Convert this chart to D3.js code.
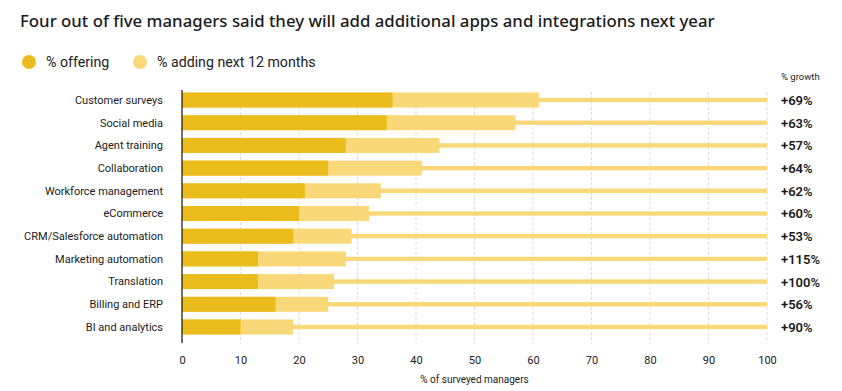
<!DOCTYPE html>
<html>
<head>
<meta charset="utf-8">
<script src="https://cdn.jsdelivr.net/npm/d3@7"></script>
<style>
  body { margin: 0; background: #fff; }
  svg { display: block; font-family: "Roboto", "Liberation Sans", sans-serif; }
</style>
</head>
<body>
<div id="chart"></div>
<script>
const categories = [
  "Customer surveys", "Social media", "Agent training", "Collaboration",
  "Workforce management", "eCommerce", "CRM/Salesforce automation",
  "Marketing automation", "Translation", "Billing and ERP", "BI and analytics"
]
// % offering today
const offering = [36, 35, 28, 25, 21, 20, 19, 13, 13, 16, 10]
// % offering + adding in next 12 months (end of the light bar)
const withAdding = [61, 57, 44, 41, 34, 32, 29, 28, 26, 25, 19]
const growth = ["+69%", "+63%", "+57%", "+64%", "+62%", "+60%", "+53%", "+115%", "+100%", "+56%", "+90%"]
const xTicks = [0, 10, 20, 30, 40, 50, 60, 70, 80, 90, 100]

const width = 842
const height = 391
const margin = {top: 91.4, right: 75, bottom: 55.4, left: 182}
const plotBottom = 343
const darkColor = "#ebbd1c"
const lightColor = "#f8d878"

const svg = d3.select("#chart").append("svg")
    .attr("width", width)
    .attr("height", height)

// title
svg.append("text")
    .attr("x", 20).attr("y", 27)
    .attr("font-family", "'Noto Sans', sans-serif")
    .attr("font-size", 16.8)
    .attr("font-weight", 500)
    .attr("fill", "#1b1b1b")
    .text("Four out of five managers said they will add additional apps and integrations next year")

// legend
const legend = [["% offering", darkColor], ["% adding next 12 months", lightColor]]
const lg = svg.append("g")
lg.selectAll("g").data(legend).join("g")
    .attr("transform", (d, i) => `translate(${i ? 140 : 29},62)`)
    .each(function (d) {
        const g = d3.select(this)
        g.append("circle").attr("r", 7).attr("fill", d[1])
        g.append("text").attr("x", 17).attr("dy", "0.35em")
            .attr("font-size", 14.2).attr("fill", "#222").text(d[0])
    })

const x = d3.scaleLinear().domain([0, 100]).range([margin.left, width - margin.right])
const y = d3.scaleBand().domain(categories)
    .range([margin.top, height - margin.bottom]).paddingInner(0.34).paddingOuter(0.05)

// grid
svg.append("g")
    .selectAll("line").data(xTicks.filter(d => d > 0)).join("line")
    .attr("x1", d => x(d)).attr("x2", d => x(d))
    .attr("y1", 92).attr("y2", plotBottom)
    .attr("stroke", "#dcdcdc").attr("stroke-dasharray", "3,2")

// x axis labels
const xAxis = svg.append("g")
    .attr("transform", `translate(0,${plotBottom})`)
    .call(d3.axisBottom(x).tickValues(xTicks).tickSize(0).tickPadding(13))
xAxis.select(".domain").remove()
xAxis.selectAll("text").attr("font-size", 11).attr("fill", "#222")
    .attr("font-family", "Roboto, sans-serif")

svg.append("text")
    .attr("x", (x(0) + x(100)) / 2).attr("y", height - 8)
    .attr("text-anchor", "middle").attr("font-size", 10).attr("fill", "#222")
    .text("% of surveyed managers")

const rows = svg.append("g").selectAll("g").data(categories).join("g")
    .attr("transform", d => `translate(0,${y(d)})`)

const bh = y.bandwidth()

// thin track to 100
rows.append("rect")
    .attr("x", x(0)).attr("y", bh / 2 - 2.2)
    .attr("width", x(100) - x(0)).attr("height", 4.4)
    .attr("fill", lightColor)

// light bar (offering + adding)
rows.append("rect")
    .attr("x", x(0)).attr("y", 0)
    .attr("width", (d, i) => x(withAdding[i]) - x(0)).attr("height", bh)
    .attr("fill", lightColor)

// dark bar (offering)
rows.append("rect")
    .attr("x", x(0)).attr("y", 0)
    .attr("width", (d, i) => x(offering[i]) - x(0)).attr("height", bh)
    .attr("fill", darkColor)

// category labels
rows.append("text")
    .attr("x", margin.left - 19).attr("y", bh / 2).attr("dy", "0.35em")
    .attr("text-anchor", "end").attr("font-size", 11).attr("fill", "#1b1b1b")
    .text(d => d)

// growth labels
rows.append("text")
    .attr("x", 781).attr("y", bh / 2).attr("dy", "0.38em")
    .attr("font-size", 13).attr("font-weight", 600).attr("fill", "#1b1b1b")
    .text((d, i) => growth[i])

svg.append("text")
    .attr("x", 781).attr("y", 80)
    .attr("font-size", 9.5).attr("fill", "#222")
    .text("% growth")

// zero line
svg.append("line")
    .attr("x1", x(0)).attr("x2", x(0))
    .attr("y1", 90).attr("y2", plotBottom)
    .attr("stroke", "#111").attr("stroke-width", 1.2)
</script>
</body>
</html>
